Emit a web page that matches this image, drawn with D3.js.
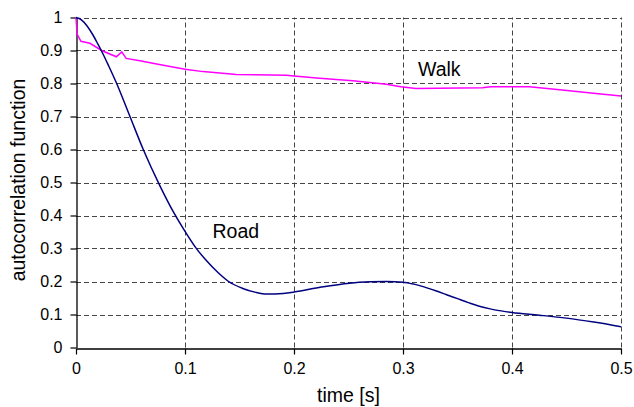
<!DOCTYPE html>
<html>
<head>
<meta charset="utf-8">
<script src="https://cdn.jsdelivr.net/npm/d3@7/dist/d3.min.js"></script>
<style>
  html, body { margin: 0; padding: 0; background: #fff; }
  svg { display: block; font-family: "Liberation Sans", Arial, sans-serif; }
</style>
</head>
<body>
<svg id="chart" width="634" height="407"></svg>
<script>
// Autocorrelation of the measured signal for two activities
const timeRoad = [0, 0.005, 0.01, 0.015, 0.02, 0.025, 0.03, 0.0373, 0.0495, 0.0617, 0.077, 0.09, 0.1, 0.11, 0.12, 0.13, 0.14, 0.153, 0.165, 0.175, 0.19, 0.2, 0.225, 0.251, 0.27, 0.285, 0.3, 0.31, 0.32, 0.33, 0.34, 0.35, 0.36, 0.37, 0.38, 0.39, 0.4, 0.425, 0.45, 0.475, 0.5];
const acfRoad  = [1.0, 0.993, 0.975, 0.95, 0.92, 0.888, 0.853, 0.8, 0.7, 0.6, 0.49, 0.407, 0.352, 0.302, 0.262, 0.228, 0.2, 0.179, 0.167, 0.162, 0.164, 0.168, 0.183, 0.195, 0.199, 0.2, 0.198, 0.192, 0.183, 0.172, 0.16, 0.148, 0.136, 0.125, 0.117, 0.111, 0.106, 0.098, 0.089, 0.077, 0.063];

const timeWalk = [0, 0.001, 0.0045, 0.0128, 0.0235, 0.037, 0.042, 0.046, 0.0586, 0.074, 0.1, 0.1166, 0.147, 0.193, 0.2, 0.2235, 0.254, 0.2848, 0.298, 0.312, 0.373, 0.38, 0.416, 0.446, 0.477, 0.5];
const acfWalk  = [1.0, 0.95, 0.928, 0.922, 0.9, 0.881, 0.896, 0.876, 0.869, 0.859, 0.843, 0.836, 0.827, 0.825, 0.823, 0.816, 0.808, 0.798, 0.79, 0.785, 0.787, 0.79, 0.79, 0.78, 0.77, 0.762];

const xTicks = [0, 0.1, 0.2, 0.3, 0.4, 0.5];
const yTicks = [0, 0.1, 0.2, 0.3, 0.4, 0.5, 0.6, 0.7, 0.8, 0.9, 1];

const svg = d3.select("#chart");
const x = d3.scaleLinear().domain([0, 0.5]).range([76, 621]);
const y = d3.scaleLinear().domain([0, 1]).range([347.5, 17.5]);
const fmt = d => String(d);

// Dashed grid
const grid = svg.append("g").attr("stroke", "#444").attr("stroke-width", 1).attr("stroke-dasharray", "5,3");
grid.selectAll("line.h").data(yTicks.filter(d => d > 0)).join("line")
  .attr("x1", x(0)).attr("x2", x(0.5))
  .attr("y1", d => Math.round(y(d)) + 0.5).attr("y2", d => Math.round(y(d)) + 0.5);
grid.selectAll("line.v").data(xTicks.filter(d => d > 0)).join("line")
  .attr("y1", y(0)).attr("y2", y(1))
  .attr("x1", d => Math.round(x(d)) + 0.5).attr("x2", d => Math.round(x(d)) + 0.5);

// Axes
const xAxis = d3.axisBottom(x).tickValues(xTicks).tickFormat(fmt).tickSizeInner(6).tickSizeOuter(0).tickPadding(8);
const yAxis = d3.axisLeft(y).tickValues(yTicks).tickFormat(fmt).tickSizeInner(6).tickSizeOuter(0).tickPadding(8);

const gx = svg.append("g").attr("transform", `translate(0,${Math.round(y(0)) + 0.5})`).call(xAxis);
const gy = svg.append("g").attr("transform", `translate(${Math.round(x(0)) + 0.5},0)`).call(yAxis);
[gx, gy].forEach(g => {
  g.select(".domain").attr("stroke", "#000").attr("stroke-width", 1.3);
  g.selectAll(".tick line").attr("stroke", "#000").attr("stroke-width", 1.2);
  g.selectAll(".tick text").attr("fill", "#000").style("font-size", "16px")
    .style("font-family", "'Liberation Sans', Arial, sans-serif");
});

// Series lines
const roadLine = d3.line().x(d => x(d[0])).y(d => y(d[1])).curve(d3.curveMonotoneX);
const walkLine = d3.line().x(d => x(d[0])).y(d => y(d[1]));

svg.append("path").datum(d3.zip(timeWalk, acfWalk))
  .attr("d", walkLine).attr("fill", "none").attr("stroke", "#ff00ff").attr("stroke-width", 1.5);
svg.append("path").datum(d3.zip(timeRoad, acfRoad))
  .attr("d", roadLine).attr("fill", "none").attr("stroke", "#000080").attr("stroke-width", 1.5);

// Series labels
svg.append("text").attr("x", 212.5).attr("y", 237.5).style("font-size", "19.5px").text("Road");
svg.append("text").attr("x", 418).attr("y", 76).style("font-size", "19.5px").text("Walk");

// Axis titles
svg.append("text").attr("x", (x(0) + x(0.5)) / 2).attr("y", 402)
  .attr("text-anchor", "middle").style("font-size", "19.5px").text("time [s]");
svg.append("text").attr("transform", `translate(25,180) rotate(-90)`)
  .attr("text-anchor", "middle").style("font-size", "19.5px").text("autocorrelation function");
</script>
</body>
</html>
